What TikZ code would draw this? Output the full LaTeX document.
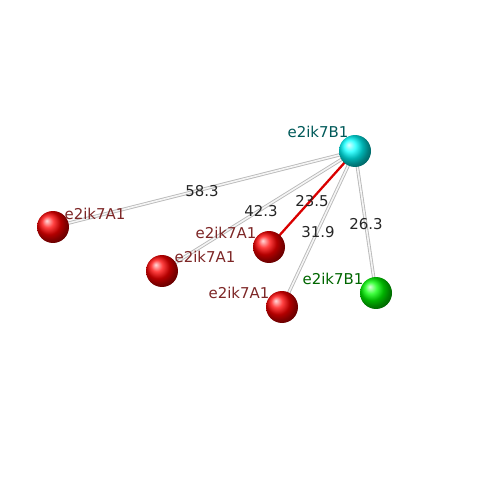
\documentclass[tikz,border=0pt]{standalone}
\usepackage{fontspec}
\setmainfont{DejaVu Sans}
\begin{document}
\begin{tikzpicture}[x=0.02cm,y=-0.02cm,
  atom/.style={circle,inner sep=0pt,minimum size=0.64cm,shading=ball},
  bond/.style={draw=gray!55,line width=2.2pt,double=white!92!gray,double distance=0.9pt,line width=0.5pt},
  redbond/.style={draw=red!85!black,line width=1.3pt},
  lblA/.style={font=\fontsize{8.5pt}{10pt}\selectfont,text=red!40!black!85,inner sep=0pt},
  lblB/.style={font=\fontsize{8.5pt}{10pt}\selectfont,text=teal!70!black,inner sep=0pt},
  lblG/.style={font=\fontsize{8.5pt}{10pt}\selectfont,text=green!40!black,inner sep=0pt},
  dist/.style={font=\fontsize{8.5pt}{10pt}\selectfont,text=black!85,inner sep=0pt}]
\useasboundingbox (0,0) rectangle (500,500);
\coordinate (cb) at (355,151);
\coordinate (ca1) at (53,227);
\coordinate (ca2) at (162,271);
\coordinate (ca3) at (269,247);
\coordinate (ca4) at (282,307);
\coordinate (cg) at (376,293);
\draw[bond] (cb) -- (ca1);
\draw[bond] (cb) -- (ca2);
\draw[bond] (cb) -- (ca4);
\draw[bond] (cb) -- (cg);
\draw[redbond] (cb) -- (ca3);
\node[atom,ball color=red] (a1) at (ca1) {};
\node[atom,ball color=red] (a2) at (ca2) {};
\node[atom,ball color=red] (a3) at (ca3) {};
\node[atom,ball color=red] (a4) at (ca4) {};
\node[atom,ball color=green] (g) at (cg) {};
\node[atom,ball color=cyan] (b) at (cb) {};
\node[lblB] (lb) at (318,132) {e2ik7B1};
\node[lblA] (la1) at (95,214) {e2ik7A1};
\node[lblA] (la3) at (226,233) {e2ik7A1};
\node[lblA] (la2) at (205,257) {e2ik7A1};
\node[lblA] (la4) at (239,293) {e2ik7A1};
\node[lblG] (lg) at (333,279) {e2ik7B1};
\node[dist] (d1) at (202,191) {58.3};
\node[dist] (d2) at (261,211) {42.3};
\node[dist] (d3) at (312,201) {23.5};
\node[dist] (d4) at (318,232) {31.9};
\node[dist] (d5) at (366,224) {26.3};
\end{tikzpicture}
\end{document}
